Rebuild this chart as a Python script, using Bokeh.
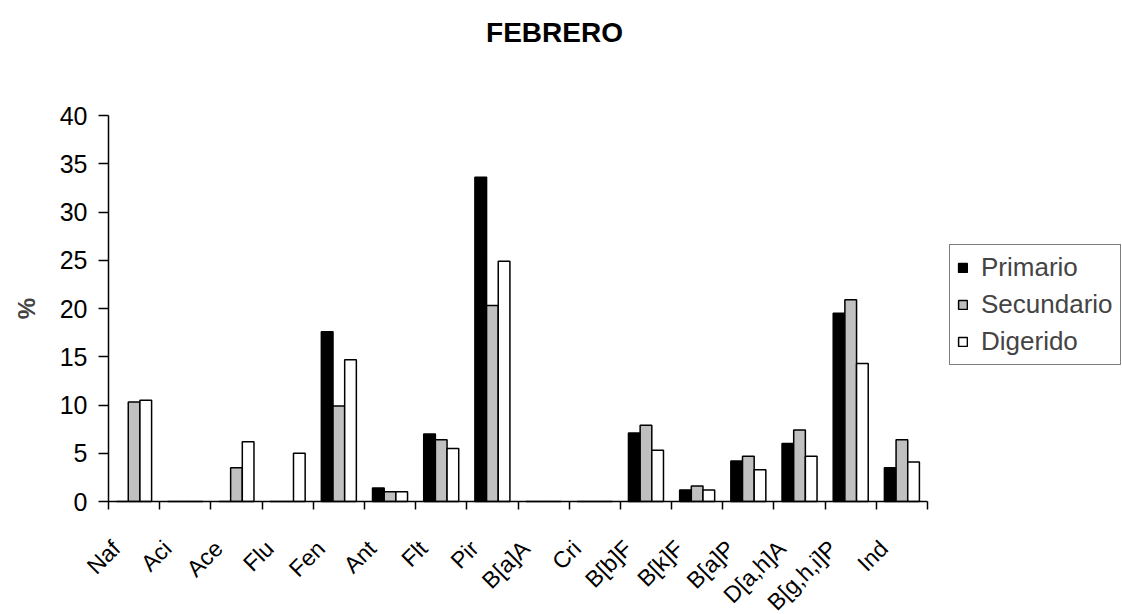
import math
from bokeh.plotting import figure
from bokeh.models import Range1d, FixedTicker, Legend, Label
from bokeh.embed import file_html
from bokeh.resources import INLINE

categories = ["Naf", "Aci", "Ace", "Flu", "Fen", "Ant", "Flt", "Pir", "B[a]A", "Cri",
              "B[b]F", "B[k]F", "B[a]P", "D[a,h]A", "B[g,h,i]P", "Ind"]
primario = [0, 0, 0, 0, 17.6, 1.4, 7.0, 33.6, 0, 0, 7.1, 1.2, 4.2, 6.0, 19.5, 3.5]
secundario = [10.3, 0, 3.5, 0, 9.9, 1.0, 6.4, 20.3, 0, 0, 7.9, 1.6, 4.7, 7.4, 20.9, 6.4]
digerido = [10.5, 0, 6.2, 5.0, 14.7, 1.0, 5.5, 24.9, 0, 0, 5.3, 1.2, 3.3, 4.7, 14.3, 4.1]
series_names = ["Primario", "Secundario", "Digerido"]
y_ticks = [0, 5, 10, 15, 20, 25, 30, 35, 40]
y_max = 40

FONT = "Liberation Sans"
n = len(categories)

# layout (pixels): the frame fills the whole page; both axes are pinned at 0.
# value axis 0..40 between y_top_px and y_zero_px, category axis 16 slots
# starting at x_zero_px
W, H = 1122, 614
x_zero_px = 108.0
cat_px = 819.0
y_top_px, y_zero_px = 115.0, 501.0
px_per_cat = cat_px / n
px_per_unit = (y_zero_px - y_top_px) / y_max
x_start = -x_zero_px / px_per_cat
x_end = (W - x_zero_px) / px_per_cat
y_start = -(H - y_zero_px) / px_per_unit
y_end = y_zero_px / px_per_unit

p = figure(width=W, height=H, output_backend="svg", toolbar_location=None,
           x_range=Range1d(x_start, x_end), y_range=Range1d(y_start, y_end),
           min_border_left=0, min_border_right=0, min_border_top=0,
           min_border_bottom=0)
p.outline_line_color = None
p.xgrid.visible = False
p.ygrid.visible = False
p.background_fill_color = "white"
p.border_fill_color = "white"

bw = 0.228
colors = ["#000000", "#C0C0C0", "#FFFFFF"]
renderers = []
for k, (vals, col) in enumerate(zip([primario, secundario, digerido], colors)):
    xs = [i + 0.5 + (k - 1) * bw for i in range(n)]
    r = p.vbar(x=xs, top=vals, width=bw, bottom=0, fill_color=col,
               line_color="black", line_width=1.5)
    renderers.append(r)

# y axis at category position 0
yax = p.yaxis[0]
yax.fixed_location = 0
yax.bounds = (0, y_max)
yax.ticker = FixedTicker(ticks=y_ticks, minor_ticks=[])
yax.major_tick_out = 10
yax.major_tick_in = 0
yax.major_label_standoff = 11
yax.major_label_text_font = FONT
yax.major_label_text_font_size = "25px"
yax.major_label_text_color = "black"
yax.axis_line_width = 1.5
yax.major_tick_line_width = 1.5
yax.axis_label = "%"
yax.axis_label_text_font = FONT
yax.axis_label_text_font_style = "bold"
yax.axis_label_text_font_size = "24px"
yax.axis_label_standoff = 17

# x axis at value 0 (tick marks between categories, labels offset like the original)
shift = 0.15
label_pos = [i + shift for i in range(n)]
xax = p.xaxis[0]
xax.fixed_location = 0
xax.bounds = (0, n)
xax.ticker = FixedTicker(ticks=label_pos, minor_ticks=list(range(n + 1)))
xax.major_label_overrides = {pos: c for pos, c in zip(label_pos, categories)}
xax.major_tick_out = 0
xax.major_tick_in = 0
xax.minor_tick_out = 8
xax.minor_tick_in = 0
xax.minor_tick_line_width = 1.5
xax.axis_line_width = 1.5
xax.major_label_orientation = math.pi / 4
xax.major_label_standoff = 35
xax.major_label_text_font = FONT
xax.major_label_text_font_size = "23px"
xax.major_label_text_color = "black"

legend = Legend(items=[(nm, [r]) for nm, r in zip(series_names, renderers)],
                location=(949, H - 365))
legend.label_text_font = FONT
legend.label_text_font_size = "26px"
legend.glyph_width = 11
legend.glyph_height = 11
legend.label_standoff = 13
legend.padding = 7
legend.spacing = 6
legend.border_line_color = "black"
legend.border_line_width = 1.5
legend.background_fill_color = "white"
legend.background_fill_alpha = 1
p.add_layout(legend, "center")

title = Label(x=554, y=H - 32, x_units="screen", y_units="screen", text="FEBRERO",
              text_font=FONT, text_font_style="bold", text_font_size="28px",
              text_color="black", text_align="center", text_baseline="middle")
p.add_layout(title)

open("out.html", "w").write(file_html(p, INLINE))
